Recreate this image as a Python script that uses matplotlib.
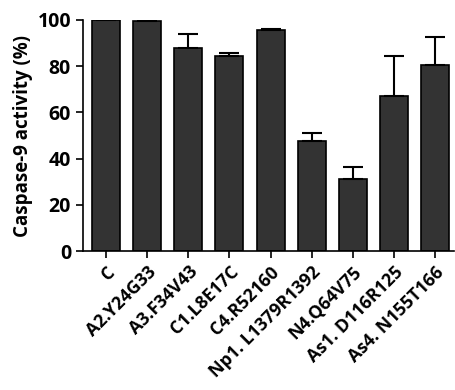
import numpy as np
import matplotlib.pyplot as plt

# Caspase-9 activity per construct
labels = ["C", "A2.Y24G33", "A3.F34V43", "C1.L8E17C", "C4.R52160",
          "Np1. L1379R1392", "N4.Q64V75", "As1. D116R125", "As4. N155T166"]
activity = [100, 99.5, 87.9, 84.2, 95.6, 47.5, 31.2, 67.1, 80.5]
err_up = [0.2, 0.4, 6.0, 1.3, 0.4, 3.4, 5.2, 17.3, 12.1]

plt.rcParams['font.family'] = ['Open Sans', 'DejaVu Sans']
plt.rcParams['font.weight'] = 'bold'

fig = plt.figure(figsize=(4.55, 3.9), dpi=100)
ax = fig.add_axes([0.182, 0.356, 0.816, 0.593])

x = np.arange(len(labels))
lower = np.zeros(len(err_up))
ax.bar(x, activity, width=0.68, color="#333333", edgecolor="black", linewidth=1.2,
       yerr=[lower, err_up], error_kw=dict(ecolor="black", elinewidth=1.5, capsize=7, capthick=1.5))

ax.set_ylim(0, 100)
ax.set_xlim(-0.56, 8.46)
ax.set_yticks([0, 20, 40, 60, 80, 100])
ax.set_xticks(x)
ax.set_xticklabels(labels, rotation=45, ha="right", rotation_mode="anchor", fontsize=12.8, fontweight="bold")
ax.tick_params(axis="y", labelsize=14, width=1.2, length=5)
ax.tick_params(axis="x", width=1.2, length=5)
for lab in ax.get_yticklabels():
    lab.set_fontweight("bold")
ax.set_ylabel("Caspase-9 activity (%)", fontsize=13.5, fontweight="bold", labelpad=3)

ax.spines["top"].set_visible(False)
ax.spines["right"].set_visible(False)
ax.spines["left"].set_linewidth(1.2)
ax.spines["bottom"].set_linewidth(1.2)

fig.savefig("out.png", dpi=100)
